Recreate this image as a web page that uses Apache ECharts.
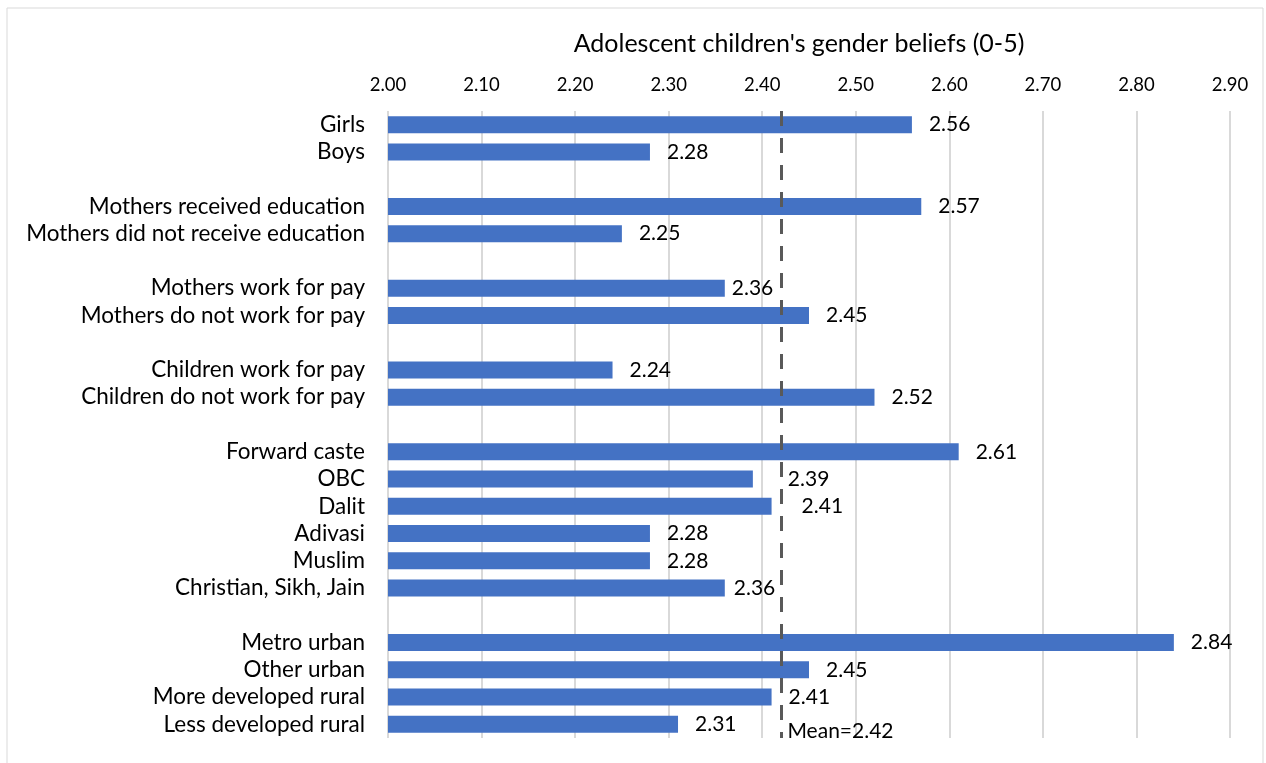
<!DOCTYPE html>
<html>
<head>
<meta charset="utf-8">
<script src="https://cdn.jsdelivr.net/npm/echarts@6/dist/echarts.min.js"></script>
<style>
  html, body { margin: 0; padding: 0; background: #fff; }
  #main { width: 1266px; height: 763px; }
</style>
</head>
<body>
<div id="main"></div>
<script>
var categories = [
    'Girls', 'Boys', '',
    'Mothers received education', 'Mothers did not receive education', '',
    'Mothers work for pay', 'Mothers do not work for pay', '',
    'Children work for pay', 'Children do not work for pay', '',
    'Forward caste', 'OBC', 'Dalit', 'Adivasi', 'Muslim', 'Christian, Sikh, Jain', '',
    'Metro urban', 'Other urban', 'More developed rural', 'Less developed rural'
];
var values = [
    2.56, 2.28, null,
    2.57, 2.25, null,
    2.36, 2.45, null,
    2.24, 2.52, null,
    2.61, 2.39, 2.41, 2.28, 2.28, 2.36, null,
    2.84, 2.45, 2.41, 2.31
];
var meanValue = 2.42;
var axisMin = 2.0;
var axisMax = 2.9;
var axisStep = 0.1;

// labels nudged away from the mean line, as in the original
var labelGap = { 6: 7, 13: 35, 14: 30, 17: 9 };

var chartDom = document.getElementById('main');
var myChart = echarts.init(chartDom);
var font = 'Lato, "Open Sans", sans-serif';

var barData = values.map(function (v, i) {
    if (v === null) return null;
    return {
        value: v,
        label: { distance: labelGap[i] !== undefined ? labelGap[i] : 17 }
    };
});

var option = {
    backgroundColor: '#fff',
    animation: false,
    graphic: [{
        type: 'rect',
        shape: { x: 7, y: 8, width: 1256, height: 800 },
        style: { fill: 'none', stroke: '#d9d9d9', lineWidth: 1 },
        silent: true
    }],
    grid: { left: 388, right: 36, top: 111, bottom: 25 },
    xAxis: {
        type: 'value',
        position: 'top',
        min: axisMin,
        max: axisMax,
        interval: axisStep,
        name: "Adolescent children's gender beliefs (0-5)",
        nameLocation: 'middle',
        nameGap: 55,
        nameTextStyle: { fontFamily: font, fontSize: 25, color: '#000', padding: [0, 20, 0, 0] },
        axisLine: { show: false },
        axisTick: { show: false },
        axisLabel: {
            margin: 16,
            fontFamily: font,
            fontSize: 18.5,
            color: '#000',
            formatter: function (v) { return v.toFixed(2); }
        },
        splitLine: { show: true, lineStyle: { color: '#d9d9d9', width: 2 } }
    },
    yAxis: {
        type: 'category',
        inverse: true,
        data: categories,
        axisLine: { show: false },
        axisTick: { show: false },
        axisLabel: {
            interval: 0,
            margin: 23,
            fontFamily: font,
            fontSize: 22.5,
            color: '#000'
        }
    },
    series: [{
        type: 'bar',
        data: barData,
        barWidth: 17,
        itemStyle: { color: '#4472C4' },
        label: {
            show: true,
            position: 'right',
            fontFamily: font,
            fontSize: 21,
            color: '#000',
            formatter: function (p) { return p.value.toFixed(2); }
        },
        markLine: {
            silent: true,
            symbol: 'none',
            lineStyle: { color: '#595959', width: 3, type: [15, 12] },
            label: { show: false },
            data: [{ xAxis: meanValue }]
        },
        markPoint: {
            silent: true,
            symbol: 'circle',
            symbolSize: 1,
            itemStyle: { color: 'rgba(0,0,0,0)' },
            label: {
                show: true,
                position: 'right',
                distance: 6,
                offset: [0, 7],
                fontFamily: font,
                fontSize: 21,
                color: '#000',
                formatter: 'Mean=' + meanValue.toFixed(2)
            },
            data: [{ coord: [meanValue, categories[categories.length - 1]] }]
        }
    }]
};

option && myChart.setOption(option);
</script>
</body>
</html>
